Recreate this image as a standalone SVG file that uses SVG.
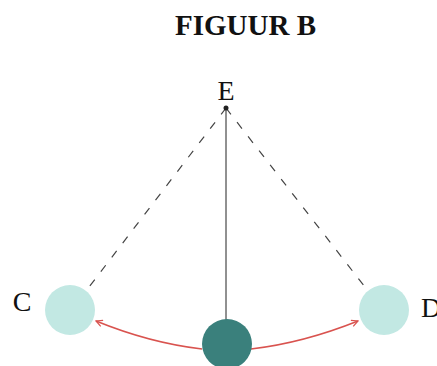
<svg xmlns="http://www.w3.org/2000/svg" width="437" height="366" viewBox="0 0 437 366">
<style>
text{font-family:"Liberation Serif","Times New Roman",serif;fill:#111}
.lbl{font-size:28px}
.dash{stroke:#444;stroke-width:1.2;stroke-dasharray:8,10;fill:none}
.arc{stroke:#d9534f;stroke-width:1.5;fill:none;marker-end:url(#ah)}
</style>
<defs>
<marker id="ah" viewBox="0 0 10 10" refX="9" refY="5" markerWidth="8" markerHeight="8" orient="auto-start-reverse" markerUnits="userSpaceOnUse">
<path d="M1,1 L9,5 L1,9" fill="none" stroke="#d9534f" stroke-width="1.5"/>
</marker>
</defs>
<text x="245.5" y="35" text-anchor="middle" font-size="29" font-weight="bold">FIGUUR B</text>
<g id="connectors">
<line class="dash" x1="226" y1="108" x2="86" y2="291"/>
<line class="dash" x1="226" y1="108" x2="368" y2="291"/>
<line x1="226" y1="108" x2="226" y2="320" stroke="#222" stroke-width="1"/>
<path class="arc" d="M202,349 Q150,343 96,321"/>
<path class="arc" d="M251,349 Q303,343 358,321"/>
</g>
<g id="E">
<circle cx="226" cy="108" r="2.5" fill="#222"/>
<text class="lbl" x="226" y="100" text-anchor="middle">E</text>
</g>
<g id="C">
<circle cx="70" cy="310" r="25" fill="#c2e8e3"/>
<text class="lbl" x="22" y="311" text-anchor="middle">C</text>
</g>
<g id="D">
<circle cx="384" cy="310" r="25" fill="#c2e8e3"/>
<text class="lbl" x="421" y="317">D</text>
</g>
<g id="B">
<circle cx="227" cy="344" r="25" fill="#3a807c"/>
</g>
</svg>
